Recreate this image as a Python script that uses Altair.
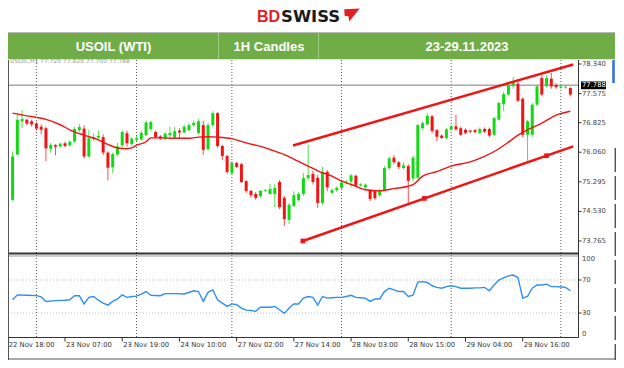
import altair as alt
import pandas as pd
import numpy as np

# ---------------- data ----------------
bar_idx = list(range(1, 119))
opens = [74.83, 76.00, 76.86, 76.90, 76.86, 76.80, 76.72, 76.68, 76.15, 76.24,
         76.21, 76.29, 76.24, 76.34, 76.63, 76.67, 75.95, 76.40, 76.44, 76.45,
         76.05, 75.67, 76.00, 76.24, 76.55, 76.27, 76.38, 76.39, 76.50, 76.66,
         76.58, 76.47, 76.41, 76.50, 76.44, 76.62, 76.57, 76.63, 76.76, 76.56,
         76.76, 76.14, 76.76, 77.07, 76.22, 75.96, 75.52, 75.78, 75.75, 75.31,
         75.06, 74.98, 74.93, 75.06, 74.98, 74.98, 75.29, 74.88, 74.31, 74.67,
         74.82, 74.98, 75.39, 75.50, 75.40, 74.75, 75.55, 75.01, 75.08, 75.14,
         75.28, 75.30, 75.45, 75.20, 75.15, 75.08, 75.05, 74.95, 75.08, 75.65,
         75.92, 75.80, 75.65, 75.70, 75.38, 75.40, 76.68, 76.78, 76.99, 76.63,
         76.49, 76.43, 76.65, 76.73, 76.68, 76.64, 76.62, 76.63, 76.56, 76.66,
         76.66, 76.51, 76.90, 77.30, 77.55, 77.78, 77.83, 77.44, 76.51, 76.51,
         77.29, 77.98, 77.77, 77.96, 77.80, 77.73, 77.73, 77.72]
highs = [76.08, 77.07, 77.15, 76.93, 76.90, 76.84, 76.78, 76.72, 76.30, 76.27,
         76.31, 76.33, 76.36, 76.72, 76.79, 76.75, 76.64, 76.55, 76.62, 76.52,
         76.08, 76.05, 76.30, 76.62, 76.62, 76.45, 76.48, 76.62, 76.88, 76.87,
         76.62, 76.50, 76.58, 76.72, 76.72, 76.68, 76.77, 76.82, 76.88, 76.92,
         76.87, 76.82, 77.12, 77.10, 76.25, 75.99, 75.83, 75.81, 75.78, 75.34,
         75.09, 75.03, 75.08, 75.11, 75.24, 75.24, 75.34, 74.93, 74.75, 75.05,
         75.03, 75.52, 76.25, 75.58, 75.47, 75.68, 75.60, 75.12, 75.18, 75.32,
         75.35, 75.50, 75.48, 75.26, 75.25, 75.10, 75.08, 75.12, 75.70, 75.95,
         75.98, 75.83, 75.80, 75.75, 75.97, 76.80, 76.86, 77.07, 77.02, 76.66,
         76.52, 76.68, 76.76, 77.03, 76.72, 76.68, 76.64, 76.66, 76.70, 76.70,
         76.70, 76.97, 77.37, 77.62, 77.85, 78.00, 77.95, 77.48, 76.90, 77.33,
         77.80, 78.04, 78.05, 78.11, 77.84, 77.78, 77.80, 77.74]
lows = [74.80, 75.98, 76.68, 76.76, 76.72, 76.62, 76.52, 75.83, 76.05, 75.98,
        76.18, 76.18, 76.20, 76.30, 76.58, 75.90, 75.92, 76.35, 76.38, 75.98,
        75.33, 75.52, 75.95, 76.18, 76.20, 76.22, 76.34, 76.36, 76.48, 76.60,
        76.42, 76.38, 76.38, 76.40, 76.40, 76.41, 76.55, 76.60, 76.72, 76.52,
        75.99, 76.10, 76.72, 76.17, 75.86, 75.50, 75.47, 75.65, 75.26, 75.01,
        74.88, 74.83, 74.88, 75.03, 74.96, 74.64, 74.59, 74.15, 74.20, 74.64,
        74.79, 74.93, 75.33, 75.22, 74.62, 74.70, 75.05, 74.98, 75.03, 75.10,
        75.22, 75.15, 75.17, 75.17, 75.10, 74.80, 74.82, 74.90, 75.05, 75.60,
        75.75, 75.62, 75.62, 74.72, 75.30, 75.36, 76.63, 76.75, 76.55, 76.35,
        76.40, 76.40, 76.62, 76.62, 76.48, 76.52, 76.55, 76.55, 76.53, 76.56,
        76.44, 76.47, 76.88, 77.12, 77.52, 77.70, 77.35, 76.45, 75.83, 76.45,
        77.25, 77.50, 77.73, 77.70, 77.70, 77.70, 77.70, 77.50]
closes = [75.95, 76.90, 76.92, 76.80, 76.78, 76.67, 76.64, 76.16, 76.25, 76.20,
          76.28, 76.22, 76.33, 76.66, 76.71, 75.95, 76.42, 76.45, 76.48, 76.05,
          75.66, 76.01, 76.21, 76.58, 76.29, 76.41, 76.42, 76.56, 76.83, 76.84,
          76.45, 76.41, 76.54, 76.56, 76.60, 76.57, 76.72, 76.76, 76.82, 76.86,
          76.12, 76.76, 77.07, 76.22, 75.96, 75.55, 75.78, 75.68, 75.29, 75.06,
          74.95, 74.88, 75.06, 75.08, 75.11, 75.14, 74.64, 74.33, 74.70, 74.95,
          74.98, 75.39, 75.47, 75.29, 74.75, 75.55, 75.15, 75.08, 75.14, 75.28,
          75.30, 75.46, 75.20, 75.23, 75.22, 74.85, 74.87, 75.08, 75.65, 75.90,
          75.80, 75.68, 75.72, 75.32, 75.92, 76.76, 76.81, 77.00, 76.61, 76.46,
          76.43, 76.65, 76.73, 76.65, 76.51, 76.56, 76.59, 76.58, 76.66, 76.59,
          76.49, 76.94, 77.33, 77.56, 77.79, 77.90, 77.39, 76.51, 76.86, 77.29,
          77.76, 77.55, 77.98, 77.76, 77.74, 77.76, 77.75, 77.55]

ma_idx = [1, 4, 6, 8, 11, 13, 16, 19, 21, 23, 25, 26, 27, 29, 30, 32, 35, 38,
          40, 42, 44, 47, 50, 53, 55, 58, 61, 63, 65, 68, 70, 73, 75, 78, 81,
          84, 85, 87, 90, 93, 97, 100, 103, 105, 107, 109, 112, 115, 118]
ma_val = [77.07, 77.00, 76.96, 76.91, 76.77, 76.64, 76.50, 76.38, 76.26, 76.17,
          76.15, 76.17, 76.24, 76.33, 76.43, 76.43, 76.42, 76.42, 76.45, 76.46,
          76.45, 76.41, 76.30, 76.21, 76.13, 76.00, 75.82, 75.70, 75.58, 75.44,
          75.32, 75.18, 75.09, 75.06, 75.12, 75.18, 75.22, 75.44, 75.56, 75.70,
          75.81, 75.95, 76.15, 76.32, 76.50, 76.64, 76.81, 77.02, 77.12]

rsi_idx = [1, 2, 4, 6, 7, 8, 10, 12, 13, 14, 15, 16, 17, 18, 19, 20, 21, 22,
           23, 24, 25, 26, 27, 28, 29, 30, 32, 33, 35, 37, 39, 40, 41, 42, 43,
           44, 45, 46, 47, 48, 49, 50, 51, 52, 53, 54, 55, 56, 57, 58, 59, 60,
           61, 62, 63, 64, 65, 66, 67, 68, 69, 70, 71, 72, 73, 74, 75, 76, 77,
           78, 79, 80, 81, 82, 83, 84, 85, 86, 87, 88, 89, 90, 91, 92, 93, 94,
           95, 96, 97, 98, 99, 100, 101, 102, 103, 104, 105, 106, 107, 108, 109,
           110, 111, 112, 113, 114, 115, 116, 117, 118]
rsi_val = [46, 52, 51.5, 51, 49.5, 44, 45, 45.5, 46, 51, 51, 41, 49, 50, 45.5,
           42, 39.5, 44, 47, 52, 49, 50, 50.5, 53, 56, 51.5, 51, 53.5, 53.5, 53,
           57, 56, 44, 55, 58, 46, 42, 38, 41, 40, 36, 33.5, 33, 32, 37, 37, 37,
           38, 34, 29.5, 36, 41, 41, 48, 50, 49, 39.5, 50, 48, 48.5, 49, 49, 50,
           51.5, 49, 48.5, 48, 44, 47, 47, 56, 60, 58, 56, 56, 50, 51.5, 67.5,
           68, 67, 63, 61, 60, 62, 63, 62, 60, 60, 60, 60.5, 60.5, 61, 57, 64,
           70, 72.5, 75, 76, 73, 48, 50, 60, 64, 64, 65, 62, 62, 61.5, 61, 57]

chan_idx = [59.82, 118.6, 61.88, 118.6]
chan_price = [76.233, 78.327, 73.765, 76.213]
chan_name = ["upper", "upper", "lower", "lower"]
marker_idx = [61.88, 87.38, 113.0]
marker_price = [73.765, 74.866, 75.97]

price_ticks = [78.340, 77.575, 76.825, 76.060, 75.295, 74.530, 73.765]
price_labels = ["78.340", "77.575", "76.825", "76.060", "75.295", "74.530", "73.765"]
last_price = 77.788

time_idx = [0, 12, 24, 36, 48, 60, 72, 84, 96, 108]
time_labels = ["22 Nov 18:00", "23 Nov 07:00", "23 Nov 19:00", "24 Nov 10:00",
               "27 Nov 02:00", "27 Nov 14:00", "28 Nov 03:00", "28 Nov 15:00",
               "29 Nov 04:00", "29 Nov 16:00"]
day_sep_idx = [6, 27, 47, 70, 93, 116]

header_texts = ["USOIL (WTI)", "1H Candles", "23-29.11.2023"]

# ---------------- styling ----------------
GREEN = "#12d912"
RED = "#f01414"
AXC = "#333333"
FONT = "DejaVu Sans"

W, H = 608, 352
xs = alt.Scale(domain=[0, 120], range=[-5.2, 576.92], nice=False, zero=False)
ps = alt.Scale(domain=[73.765, 78.34], range=[233, 56], nice=False, zero=False)
rs = alt.Scale(domain=[0, 100], range=[329.75, 247.25], nice=False, zero=False)

X = lambda f: alt.X(f, scale=xs, axis=None)
PY = lambda f: alt.Y(f, scale=ps, axis=None)
RY = lambda f: alt.Y(f, scale=rs, axis=None)

candles = pd.DataFrame({"i": bar_idx, "open": opens, "high": highs,
                        "low": lows, "close": closes})
candles["col"] = np.where(candles["close"] >= candles["open"], GREEN, RED)

one = pd.DataFrame({"k": [0]})
layers = []

# tiny top-left info text (mostly hidden under header)
layers.append(alt.Chart(one).mark_text(align="left", baseline="alphabetic", fontSize=6,
              font=FONT, color="#999999").encode(
    x=alt.value(2), y=alt.value(55), text=alt.value("USOIL,H1  77.725 77.825 77.700 77.788")))

# day separator dotted lines
layers.append(alt.Chart(pd.DataFrame({"i": day_sep_idx})).mark_rule(
    color="#555555", strokeDash=[1, 2], strokeWidth=1).encode(
    x=X("i:Q"), y=alt.value(52), y2=alt.value(329.5)))

# RSI level lines
layers.append(alt.Chart(pd.DataFrame({"v": [70, 30]})).mark_rule(
    color="#bbbbbb", strokeDash=[1, 2], strokeWidth=1).encode(
    y=RY("v:Q"), x=alt.value(0), x2=alt.value(570)))

# current price line
layers.append(alt.Chart(pd.DataFrame({"p": [last_price]})).mark_rule(
    color="#a8a8a8", strokeWidth=1.5).encode(
    y=PY("p:Q"), x=alt.value(0), x2=alt.value(570)))

# candles
layers.append(alt.Chart(candles).mark_rule(strokeWidth=1, opacity=0.75).encode(
    x=X("i:Q"), y=PY("low:Q"), y2="high:Q", color=alt.Color("col:N", scale=None)))
layers.append(alt.Chart(candles).mark_bar(size=3).encode(
    x=X("i:Q"), y=PY("open:Q"), y2="close:Q", color=alt.Color("col:N", scale=None)))

# moving average
layers.append(alt.Chart(pd.DataFrame({"i": ma_idx, "v": ma_val})).mark_line(
    color=RED, strokeWidth=1.4, interpolate="monotone").encode(x=X("i:Q"), y=PY("v:Q")))

# channel lines
layers.append(alt.Chart(pd.DataFrame({"i": chan_idx, "p": chan_price, "n": chan_name})).mark_line(
    color=RED, strokeWidth=2.4).encode(x=X("i:Q"), y=PY("p:Q"), detail="n:N"))
layers.append(alt.Chart(pd.DataFrame({"i": marker_idx, "p": marker_price})).mark_square(
    color=RED, size=22, opacity=1).encode(x=X("i:Q"), y=PY("p:Q")))

# RSI line
layers.append(alt.Chart(pd.DataFrame({"i": rsi_idx, "v": rsi_val})).mark_line(
    color="#2e8ff0", strokeWidth=1.4).encode(x=X("i:Q"), y=RY("v:Q")))

# panel frames
layers.append(alt.Chart(one).mark_rule(color="#333333", strokeWidth=2).encode(
    x=alt.value(0), x2=alt.value(570), y=alt.value(245.5)))
layers.append(alt.Chart(one).mark_rule(color="#999999", strokeWidth=1).encode(
    x=alt.value(0), x2=alt.value(570), y=alt.value(248)))
layers.append(alt.Chart(one).mark_rule(color=AXC, strokeWidth=1).encode(
    x=alt.value(0), x2=alt.value(570.5), y=alt.value(329.5)))
layers.append(alt.Chart(one).mark_rule(color=AXC, strokeWidth=1).encode(
    x=alt.value(570.5), y=alt.value(52), y2=alt.value(329.5)))
layers.append(alt.Chart(one).mark_rule(color="#555555", strokeWidth=1).encode(
    x=alt.value(0.5), y=alt.value(52), y2=alt.value(352)))
layers.append(alt.Chart(one).mark_rule(color="#555555", strokeWidth=1.2).encode(
    x=alt.value(0), x2=alt.value(607), y=alt.value(351)))
layers.append(alt.Chart(one).mark_rule(color="#2f6fd6", strokeWidth=2.5).encode(
    x=alt.value(605.5), y=alt.value(52), y2=alt.value(75)))
layers.append(alt.Chart(one).mark_rule(color="#555555", strokeWidth=1.5, strokeDash=[24, 4]).encode(
    x=alt.value(607.3), y=alt.value(140), y2=alt.value(352)))

# price axis ticks and labels
pt = pd.DataFrame({"p": price_ticks, "lab": price_labels})
layers.append(alt.Chart(pt).mark_rule(color=AXC).encode(
    y=PY("p:Q"), x=alt.value(570.5), x2=alt.value(573.5)))
layers.append(alt.Chart(pt).mark_text(align="left", baseline="middle", fontSize=6.8,
              font=FONT, color="#444444").encode(x=alt.value(574), y=PY("p:Q"), text="lab:N"))

# last price box
box_pad = 0.1
lp = pd.DataFrame({"p": [last_price], "lo": [last_price - box_pad], "hi": [last_price + box_pad],
                   "lab": [f"{last_price:.3f}"]})
layers.append(alt.Chart(lp).mark_rect(color="#000000").encode(
    x=alt.value(573), x2=alt.value(598), y=PY("lo:Q"), y2="hi:Q"))
layers.append(alt.Chart(lp).mark_text(align="left", baseline="middle", fontSize=6.8, font=FONT,
              color="#ffffff").encode(x=alt.value(574), y=PY("p:Q"), text="lab:N"))

# RSI axis ticks and labels
rt = pd.DataFrame({"v": [100, 70, 30, 0], "lab": ["100", "70", "30", "0"]})
layers.append(alt.Chart(rt[rt.v.isin([70, 30])]).mark_rule(color=AXC).encode(
    y=RY("v:Q"), x=alt.value(570.5), x2=alt.value(573.5)))
layers.append(alt.Chart(rt[rt.v.isin([70, 30])]).mark_text(align="left", baseline="middle",
              fontSize=6.8, font=FONT, color="#444444").encode(x=alt.value(574), y=RY("v:Q"), text="lab:N"))
layers.append(alt.Chart(rt[rt.v == 100]).mark_text(align="left", baseline="middle", dy=4,
              fontSize=6.8, font=FONT, color="#444444").encode(x=alt.value(574), y=RY("v:Q"), text="lab:N"))
layers.append(alt.Chart(rt[rt.v == 0]).mark_text(align="left", baseline="middle", dy=-4,
              fontSize=6.8, font=FONT, color="#444444").encode(x=alt.value(574), y=RY("v:Q"), text="lab:N"))

# time axis ticks and labels
tt = pd.DataFrame({"i": time_idx, "lab": time_labels})
layers.append(alt.Chart(tt).mark_rule(color=AXC).encode(
    x=X("i:Q"), y=alt.value(329.5), y2=alt.value(333.5)))
layers.append(alt.Chart(tt).mark_text(align="left", baseline="middle", dx=1, fontSize=6.8,
              font=FONT, color="#333333").encode(x=X("i:Q"), y=alt.value(337), text="lab:N"))

# header bar
layers.append(alt.Chart(one).mark_rect(color="#70ad47").encode(
    x=alt.value(0), x2=alt.value(607), y=alt.value(24.3), y2=alt.value(51.3)))
layers.append(alt.Chart(one).mark_rule(color="#b9b9b9", strokeWidth=1).encode(
    x=alt.value(0), x2=alt.value(607), y=alt.value(24.5)))
for xv in [210.5, 310.5]:
    layers.append(alt.Chart(one).mark_rule(color="#9fcd85", strokeWidth=1).encode(
        x=alt.value(xv), y=alt.value(24.5), y2=alt.value(51.3)))
hx = [105.5, 261, 459]
for t, xv in zip(header_texts, hx):
    layers.append(alt.Chart(one).mark_text(align="center", baseline="middle", fontSize=13,
                  fontWeight="bold", font="Liberation Sans", color="#ffffff").encode(
        x=alt.value(xv), y=alt.value(38.8), text=alt.value(t)))

# logo
layers.append(alt.Chart(one).mark_text(align="left", baseline="alphabetic", fontSize=16,
              fontWeight="bold", font="Liberation Sans", color="#e31e24").encode(
    x=alt.value(249), y=alt.value(13.5), text=alt.value("BD")))
layers.append(alt.Chart(one).mark_text(align="left", baseline="alphabetic", fontSize=16.5,
              fontWeight="bold", font="DejaVu Sans", color="#1a1a1a").encode(
    x=alt.value(273), y=alt.value(13.5), text=alt.value("SWISS")))
layers.append(alt.Chart(one).mark_point(
    shape="M -1 -0.75 L 1 -0.85 L -0.35 0.85 L -0.45 0.15 L -0.95 0.1 Z",
    filled=True, opacity=1, size=240, color="#e31e24").encode(
    x=alt.value(344), y=alt.value(7)))

chart = alt.layer(*layers).resolve_scale(y="independent").properties(
    width=W, height=H, autosize=alt.AutoSizeParams(type="none"), padding=0
).configure_view(stroke=None)

chart.save("out.html", embed_options={"renderer": "svg", "actions": False})
